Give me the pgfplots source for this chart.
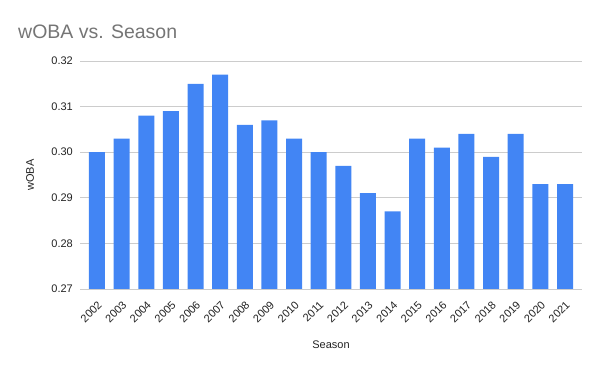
\documentclass[border=0pt]{standalone}
\usepackage{pgfplots}
\pgfplotsset{compat=1.18}
\usepackage{fontspec}
\setmainfont{Liberation Sans}
\definecolor{barblue}{HTML}{4285F4}
\definecolor{gridgray}{HTML}{CCCCCC}
\definecolor{titlegray}{HTML}{757575}
\definecolor{textdark}{HTML}{222222}
\begin{document}
\begin{tikzpicture}[x=1pt,y=1pt]
\useasboundingbox (0,0) rectangle (600,371);
\node[anchor=west, text=titlegray, font=\fontsize{19.5}{22}\selectfont, inner sep=0] at (18,339) {wOBA vs. Season};
\begin{axis}[
  at={(80pt,82pt)}, anchor=south west,
  scale only axis, width=502pt, height=228pt,
  ybar, bar width=16pt,
  ymin=0.27, ymax=0.32,
  ytick={0.27,0.28,0.29,0.30,0.31,0.32},
  yticklabel style={/pgf/number format/fixed, /pgf/number format/fixed zerofill, /pgf/number format/precision=2},
  /pgf/number format/assume math mode=true,
  xmin=-0.69, xmax=19.69,
  xtick={0,...,19},
  xticklabels={2002,2003,2004,2005,2006,2007,2008,2009,2010,2011,2012,2013,2014,2015,2016,2017,2018,2019,2020,2021},
  xticklabel style={xshift=3pt, yshift=-14pt, rotate=45, anchor=east, inner sep=0pt},
  yticklabel style={inner sep=0pt, xshift=-7pt},
  tick label style={font=\fontsize{11}{12}\selectfont, text=textdark},
  label style={font=\fontsize{11}{12}\selectfont, text=textdark},
  major tick length=0pt,
  axis line style={draw=none},
  ymajorgrids, grid style={gridgray, line width=0.8pt},
  xlabel={Season}, ylabel={wOBA},
  xlabel style={at={(axis description cs:0.5,0)}, anchor=center, yshift=-56pt},
  ylabel style={at={(axis description cs:-0.0996,0.5)}, anchor=center},
  clip=false,
]
\addplot[fill=barblue, draw=none, bar shift=0pt] coordinates {
(0,0.300) (1,0.303) (2,0.308) (3,0.309) (4,0.315) (5,0.317) (6,0.306) (7,0.307) (8,0.303) (9,0.300)
(10,0.297) (11,0.291) (12,0.287) (13,0.303) (14,0.301) (15,0.304) (16,0.299) (17,0.304) (18,0.293) (19,0.293)
};
\end{axis}
\end{tikzpicture}
\end{document}
